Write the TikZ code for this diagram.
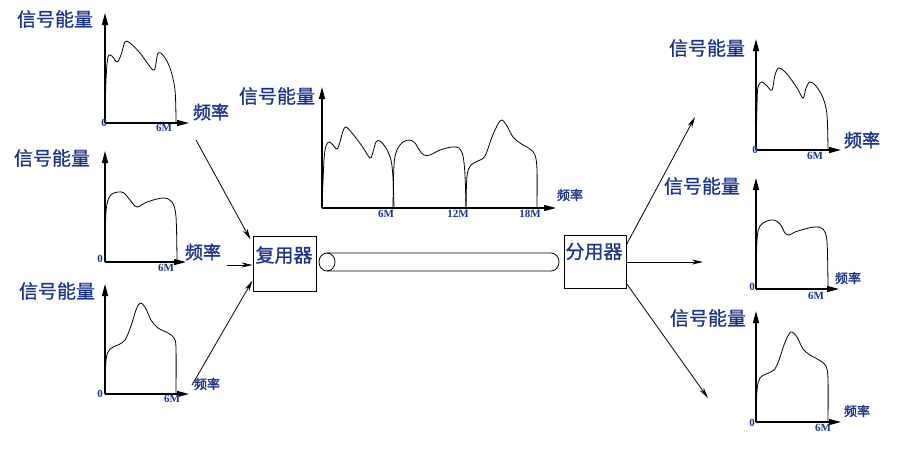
\documentclass[tikz,border=0pt]{standalone}
\usepackage{fontspec}
\usetikzlibrary{arrows.meta,calc}
\newfontfamily\cjk[FakeBold=0.8]{Noto Sans CJK SC}
\newfontfamily\cjkb[FakeBold=1.6]{Noto Sans CJK SC}
\newfontfamily\numf{Liberation Serif}
\definecolor{lblue}{RGB}{28,52,135}
\begin{document}
\begin{tikzpicture}[x=1pt,y=-1pt,
  axis/.style={line width=1.3pt,-{Triangle[length=12pt,width=6pt]}},
  sig/.style={line width=0.8pt,smooth,tension=0.55},
  lbl/.style={text=lblue,font=\cjk\fontsize{19}{19}\selectfont,inner sep=0pt},
  frbig/.style={text=lblue,font=\cjkb\fontsize{18}{18}\selectfont,inner sep=0pt},
  frsmall/.style={text=lblue,font=\cjkb\fontsize{13}{13}\selectfont,inner sep=0pt},
  tick/.style={text=lblue,font=\numf\bfseries\fontsize{11}{11}\selectfont,inner sep=0pt},
  box/.style={draw,line width=1pt,rectangle,inner sep=0pt},
  conn/.style={line width=0.8pt,-{Stealth[length=11pt,width=5pt]}}]
\useasboundingbox (0,0) rectangle (907,459);

% ---------- left top chart
\draw[axis] (105,123) -- (105,13);
\draw[axis] (105,123) -- (189,123);
\draw[sig] plot coordinates {(105,122) (106,80) (108,57) (112,56) (117,62) (121,55) (125,42) (130,43) (140,53) (153,70) (156,63) (158,53) (163,55) (170,68) (175,90) (176,122)};
\node[lbl] at (55,19) {信号能量};
\node[tick] at (104,123) {0};
\node[tick] at (164,128) {6M};
\node[frbig] at (211,112) {频率};

% ---------- left middle chart
\draw[axis] (105,262) -- (105,151);
\draw[axis] (105,262) -- (186,262);
\draw[sig] plot coordinates {(105,261) (106,212) (110,196) (118,192) (124,193) (130,200) (137,207) (147,202) (163,198) (172,202) (176,217) (177,261)};
\node[lbl] at (52,158) {信号能量};
\node[tick] at (100,259) {0};
\node[tick] at (166,268) {6M};
\node[frbig] at (203,252) {频率};

% ---------- left bottom chart
\draw[axis] (105,394) -- (105,284);
\draw[axis] (105,394) -- (189,394);
\draw[sig] plot coordinates {(105,394) (106,360) (110,349) (118,345) (125,340) (131,326) (136,310) (140,303) (145,307) (151,320) (158,328) (168,333) (174,338) (176,348) (176,394)};
\node[lbl] at (57,291) {信号能量};
\node[tick] at (100,394) {0};
\node[tick] at (172,399) {6M};
\node[frsmall] at (207,384) {频率};

% ---------- middle combined chart
\draw[axis] (322,208) -- (322,87);
\draw[axis] (322,208) -- (556,208);
\draw[sig] plot coordinates {(322,208) (324,160) (326,146) (329,142) (333,145) (337,149) (340,142) (343,131) (346,127) (352,133) (362,146) (370,158) (373,152) (376,142) (380,141) (386,148) (391,160) (393,178) (394,208)};
\draw[sig] plot coordinates {(393,208) (394,165) (397,150) (403,142) (410,140) (415,143) (420,151) (424,155) (430,155) (440,150) (452,147) (459,148) (463,156) (465,175) (466,208)};
\draw[sig] plot coordinates {(466,208) (467,176) (471,165) (478,161) (485,156) (492,137) (498,124) (502,120) (507,126) (513,137) (520,143) (530,149) (535,155) (537,170) (537,208)};
\node[lbl] at (277,96) {信号能量};
\node[tick] at (386,214) {6M};
\node[tick] at (458,214) {12M};
\node[tick] at (530,214) {18M};
\node[frsmall] at (570,195) {频率};

% ---------- right top chart
\draw[axis] (756,150) -- (756,39);
\draw[axis] (756,150) -- (841,150);
\draw[sig] plot coordinates {(756,150) (757,105) (758,87) (762,82) (767,86) (772,90) (775,75) (779,68) (787,74) (797,88) (803,98) (806,88) (810,82) (816,86) (823,98) (827,115) (828,150)};
\node[lbl] at (707,48) {信号能量};
\node[tick] at (755,150) {0};
\node[tick] at (815,156) {6M};
\node[frbig] at (862,140) {频率};

% ---------- right middle chart
\draw[axis] (756,289) -- (756,178);
\draw[axis] (756,289) -- (839,289);
\draw[sig] plot coordinates {(756,289) (757,240) (760,226) (767,221) (774,220) (780,224) (785,233) (789,235) (795,232) (805,229) (815,227) (823,229) (827,242) (828,289)};
\node[lbl] at (702,186) {信号能量};
\node[tick] at (752,287) {0};
\node[tick] at (816,296) {6M};
\node[frsmall] at (848,278) {频率};

% ---------- right bottom chart
\draw[axis] (756,422) -- (756,311);
\draw[axis] (756,422) -- (841,422);
\draw[sig] plot coordinates {(756,422) (757,390) (760,378) (766,374) (774,370) (779,360) (784,345) (789,334) (792,332) (797,337) (803,349) (810,355) (819,360) (826,366) (828,380) (828,422)};
\node[lbl] at (708,318) {信号能量};
\node[tick] at (752,423) {0};
\node[tick] at (823,428) {6M};
\node[frsmall] at (857,411) {频率};

% ---------- multiplexer / demultiplexer
\node[box,minimum width=63pt,minimum height=55pt] (mux) at (284.5,263.5) {};
\node[lbl] (muxt) at (284,255) {复用器};
\node[box,minimum width=62pt,minimum height=53pt] (demux) at (595,261.5) {};
\node[lbl] (demuxt) at (594,251.5) {分用器};

% ---------- cable
\draw[line width=0.8pt] (327,253) -- (551,253) arc[start angle=-90,end angle=90,x radius=8,y radius=9] -- (327,271);
\draw[line width=0.8pt] (327,262) ellipse[x radius=8,y radius=9];

% ---------- connectors
\coordinate (s1) at (196,140);
\coordinate (s2) at (227,265);
\coordinate (s3) at (192,385);
\draw[conn] (s1) -- ($(mux.north west)+(-2,4)$);
\draw[conn] (s2) -- (mux.west |- s2);
\draw[conn] (s3) -- ($(mux.south west)+(0,-11)$);
\coordinate (e1) at (695,117);
\coordinate (e2) at (703,262);
\coordinate (e3) at (708,398);
\draw[conn] ($(demux.north east)+(0,10)$) -- (e1);
\draw[conn] (demux.east |- e2) -- (e2);
\draw[conn] ($(demux.south east)+(0,-5)$) -- (e3);
\end{tikzpicture}
\end{document}
